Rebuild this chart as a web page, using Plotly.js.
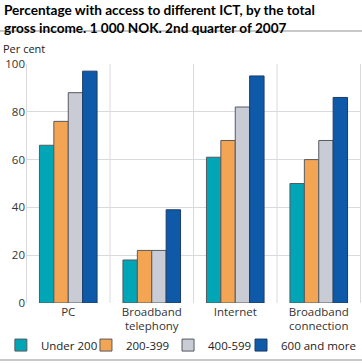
<!DOCTYPE html>
<html><head><meta charset="utf-8">
<script src="https://cdn.plot.ly/plotly-3.0.1.min.js"></script>
<style>html,body{margin:0;padding:0;background:#fff}</style>
</head><body><div id="c" style="width:362px;height:363px"></div>
<script>
const categories = ["PC", "Broadband<br>telephony", "Internet", "Broadband<br>connection"];
const seriesNames = ["Under 200", "200-399", "400-599", "600 and more"];
const under200 = [66, 18, 61, 50];
const s200_399 = [76, 22, 68, 60];
const s400_599 = [88, 22, 82, 68];
const s600plus = [97, 39, 95, 86];
const yTicks = [0, 20, 40, 60, 80, 100];

const colors = ["#00a6b6", "#f4a553", "#c9ccd4", "#0e5aa8"];
const series = [under200, s200_399, s400_599, s600plus];
const legendIds = ["legend", "legend2", "legend3", "legend4"];
const fontFam = "'Open Sans', 'Noto Sans', sans-serif";

const traces = series.map((v, i) => ({
  type: "bar", x: categories, y: v, name: seriesNames[i],
  legend: legendIds[i],
  marker: {color: colors[i], line: {color: i === 3 ? "#1d3a66" : "#555a60", width: 1}},
  hoverinfo: "none"
}));

const shapes = [];
[ -0.5, 0.5, 1.5, 2.5, 3.5 ].forEach(xv => shapes.push({
  type: "line", xref: "x", yref: "paper", x0: xv, x1: xv, y0: 0, y1: 1,
  line: {color: "#d9dadd", width: 1}, layer: "below"
}));
shapes.push({type: "line", xref: "paper", yref: "paper", x0: -0.08, x1: 1.01, y0: 1.138, y1: 1.138, line: {color: "#c8c8c8", width: 2}});
shapes.push({type: "line", xref: "paper", yref: "paper", x0: -0.08, x1: 1.01, y0: -0.238, y1: -0.238, line: {color: "#c8c8c8", width: 2}});

const legendBase = {orientation: "h", yanchor: "middle", y: -0.176,
  bgcolor: "rgba(0,0,0,0)", font: {family: fontFam, size: 11.5, color: "#222"},
  itemwidth: 30, traceorder: "normal", tracegroupgap: 0};

const layout = {
  width: 362, height: 363,
  margin: {l: 26, r: 1, t: 64, b: 60},
  paper_bgcolor: "#fff", plot_bgcolor: "#fff",
  font: {family: fontFam, color: "#222", size: 11.5},
  barmode: "group", bargap: 0.31, bargroupgap: 0,
  showlegend: true,
  legend: Object.assign({}, legendBase, {x: -0.075, xanchor: "left"}),
  legend2: Object.assign({}, legendBase, {x: 0.179, xanchor: "left"}),
  legend3: Object.assign({}, legendBase, {x: 0.424, xanchor: "left"}),
  legend4: Object.assign({}, legendBase, {x: 1.0, xanchor: "right"}),
  xaxis: {showgrid: false, zeroline: false, showline: false, ticks: "", tickfont: {size: 11.5, color: "#333"}},
  yaxis: {range: [0, 100], tickvals: yTicks, ticktext: yTicks.map(String), gridcolor: "#d9dadd", gridwidth: 1,
    zeroline: false, showline: false, ticks: "", tickfont: {size: 11.5, color: "#333"}, fixedrange: true},
  shapes: shapes,
  annotations: [
    {text: "<b>Percentage with access to different ICT, by the total<br>gross income. 1 000 NOK. 2nd quarter of 2007</b>",
     xref: "paper", yref: "paper", x: -0.072, y: 1.266, xanchor: "left", yanchor: "top", align: "left",
     showarrow: false, font: {family: "Lato, 'Open Sans', sans-serif", size: 13.6, color: "#000"}},
    {text: "Per cent", xref: "paper", yref: "paper", x: -0.075, y: 1.066, xanchor: "left", yanchor: "middle",
    showarrow: false, font: {family: fontFam, size: 11, color: "#222"}}]
};
Plotly.newPlot("c", traces, layout, {displayModeBar: false, staticPlot: true});
</script></body></html>
